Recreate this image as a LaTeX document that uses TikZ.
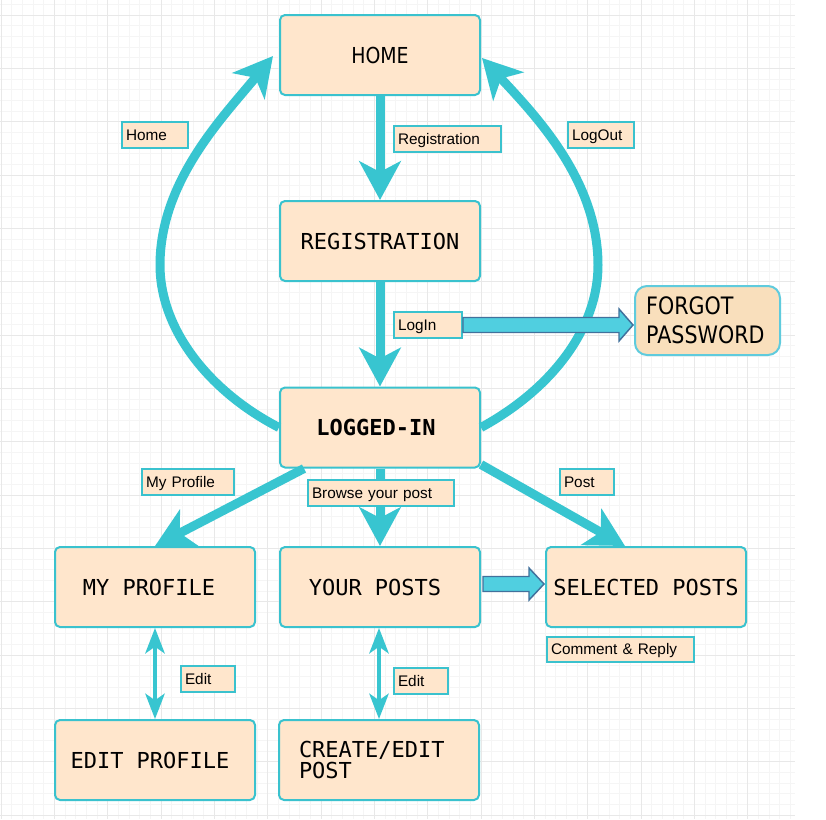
\documentclass[tikz,border=0pt]{standalone}
\usepackage{fontspec}
\usetikzlibrary{arrows.meta,calc}
\newfontfamily\dvmono{DejaVu Sans Mono}
\newfontfamily\tahfont[FakeStretch=0.86]{DejaVu Sans}
\newfontfamily\labfont{Liberation Sans}
\definecolor{boxteal}{HTML}{3AC2CE}
\definecolor{arrteal}{HTML}{38C5D0}
\definecolor{peach}{HTML}{FFE6CC}
\definecolor{fgfill}{HTML}{F9DFBC}
\definecolor{fgborder}{HTML}{5FCBDD}
\definecolor{fatfill}{HTML}{50CFE0}
\definecolor{fatborder}{HTML}{41719C}
\definecolor{gridminor}{HTML}{F5F5F5}
\definecolor{gridmajor}{HTML}{E8E8E8}
\begin{document}
\begin{tikzpicture}[x=0.75pt,y=-0.75pt,
  box/.style={draw=boxteal, fill=peach, line width=1.5pt, rounded corners=3.75pt,
    minimum width=150pt, minimum height=60pt, inner sep=0pt,
    font=\dvmono\fontsize{16.5}{16}\selectfont},
  capc/.style={text height=12pt, text depth=0pt},
  lbl/.style={draw=boxteal, fill=peach, line width=1.5pt, anchor=north west,
    inner xsep=3pt, inner ysep=0pt, minimum height=19.5pt, align=left,
    font=\labfont\fontsize{11.5}{13}\selectfont, text height=8.2pt, text depth=0pt},
  big/.style={-{Stealth[length=29pt,width=31pt,inset=8pt]}, line width=6.75pt, draw=arrteal},
  dbl/.style={{Stealth[length=19pt,width=14.5pt,inset=5pt]}-{Stealth[length=19pt,width=14.5pt,inset=5pt]},
    line width=3pt, draw=arrteal},
  fat/.style={draw=fatborder, fill=fatfill, line width=1.1pt, line join=miter},
  gmin/.style={draw=gridminor, line width=0.75pt},
  gmaj/.style={draw=gridmajor, line width=0.75pt}]
\useasboundingbox (0,0) rectangle (826,819);
\fill[white] (0,0) rectangle (826,819);
% grid
\foreach \k in {0,...,74} \draw[gmin] ({1+\k*10.6667},0) -- ({1+\k*10.6667},819);
\foreach \k in {-1,...,75} \draw[gmin] (0,{15+\k*10.6667}) -- (795,{15+\k*10.6667});
\foreach \k in {0,...,14} \draw[gmaj] ({1+\k*53.3333},0) -- ({1+\k*53.3333},819);
\foreach \k in {0,...,15} \draw[gmaj] (0,{15+\k*53.3333}) -- (795,{15+\k*53.3333});

% boxes
\node[box, capc, font=\tahfont\fontsize{16.5}{18}\selectfont] (home) at (380,55) {HOME};
\node[box, capc] (reg) at (380,241) {REGISTRATION};
\node[box, capc] (logged) at (380,427.5) {\bfseries LOGGED-IN\hspace*{6pt}};
\node[box, capc] (myprof) at (155,587) {MY PROFILE\hspace*{9pt}};
\node[box, capc] (yourposts) at (380,587) {YOUR POSTS\hspace*{7.5pt}};
\node[box, capc] (selected) at (646,587) {SELECTED POSTS};
\node[box, capc] (editprof) at (155,760) {EDIT PROFILE\hspace*{7.5pt}};
\node[box, align=left, text width=120pt, font=\dvmono\fontsize{16.5}{15.5}\selectfont] (create) at (379,760) {CREATE/EDIT\\POST};
\node[draw=fgborder, fill=fgfill, line width=1.5pt, rounded corners=9pt,
  minimum width=108.75pt, minimum height=51.75pt, inner sep=0pt,
  text width=92pt, align=left, font=\tahfont\fontsize{18}{21.75}\selectfont]
  (forgot) at (707.5,320.5) {FORGOT\\PASSWORD};

% thick arrows
\draw[big] (home) -- (reg);
\draw[big] (reg) -- (logged);
\draw[big] (logged) -- (yourposts);
\draw[big] ($(logged.south west)+(25,0)$) -- (myprof.north);
\draw[big] ($(logged.south east)+(0,-4)$) -- ($(selected.north)+(-21,0)$);
\draw[big] (logged.west) .. controls (210,392) and (160,330) .. (160,265)
  .. controls (160,180) and (225,115) .. ($(home.west)+(-6,1)$);
\draw[big] (logged.east) .. controls (550,390) and (598,330) .. (598,265)
  .. controls (598,180) and (535,115) .. ($(home.east)+(1,3)$);

% double arrows
\draw[dbl] (myprof) -- (editprof);
\draw[dbl] (create.north |- yourposts.south) -- (create.north);

% labels
\node[lbl, text width=43.5pt] (homelbl) at (121,121) {Home};
\node[lbl, text width=74.25pt] (reglbl) at (393,125) {Registration};
\node[lbl, text width=43.5pt] (logoutlbl) at (567,121) {LogOut};
\node[lbl, text width=45pt] (loginlbl) at (393,311) {LogIn};
\node[lbl, text width=63pt] (myproflbl) at (141,468) {My Profile};
\node[lbl, text width=103.5pt] (browselbl) at (307,479) {Browse your post};
\node[lbl, text width=34.5pt] (postlbl) at (559,468) {Post};
\node[lbl, text width=104.25pt, minimum height=18.75pt] (commentlbl) at (546,636) {Comment \& Reply};
\node[lbl, text width=34.5pt] (editlbl1) at (180,665) {Edit};
\node[lbl, text width=34.5pt] (editlbl2) at (393,667) {Edit};

% fat block arrows
\coordinate (s1) at (loginlbl.east);
\coordinate (e1) at (forgot.west |- loginlbl.east);
\draw[fat] ($(s1)+(0,-7.5)$) -- ($(e1)+(-15,-7.5)$) -- ($(e1)+(-15,-16)$) -- ($(e1)+(-1,0)$)
  -- ($(e1)+(-15,16)$) -- ($(e1)+(-15,7.5)$) -- ($(s1)+(0,7.5)$) -- cycle;
\coordinate (s2) at ($(yourposts.east)+(2,-3)$);
\coordinate (e2) at ($(selected.west)+(-1,-3)$);
\draw[fat] ($(s2)+(0,-7.5)$) -- ($(e2)+(-15,-7.5)$) -- ($(e2)+(-15,-16)$) -- (e2)
  -- ($(e2)+(-15,16)$) -- ($(e2)+(-15,7.5)$) -- ($(s2)+(0,7.5)$) -- cycle;
\end{tikzpicture}
\end{document}
